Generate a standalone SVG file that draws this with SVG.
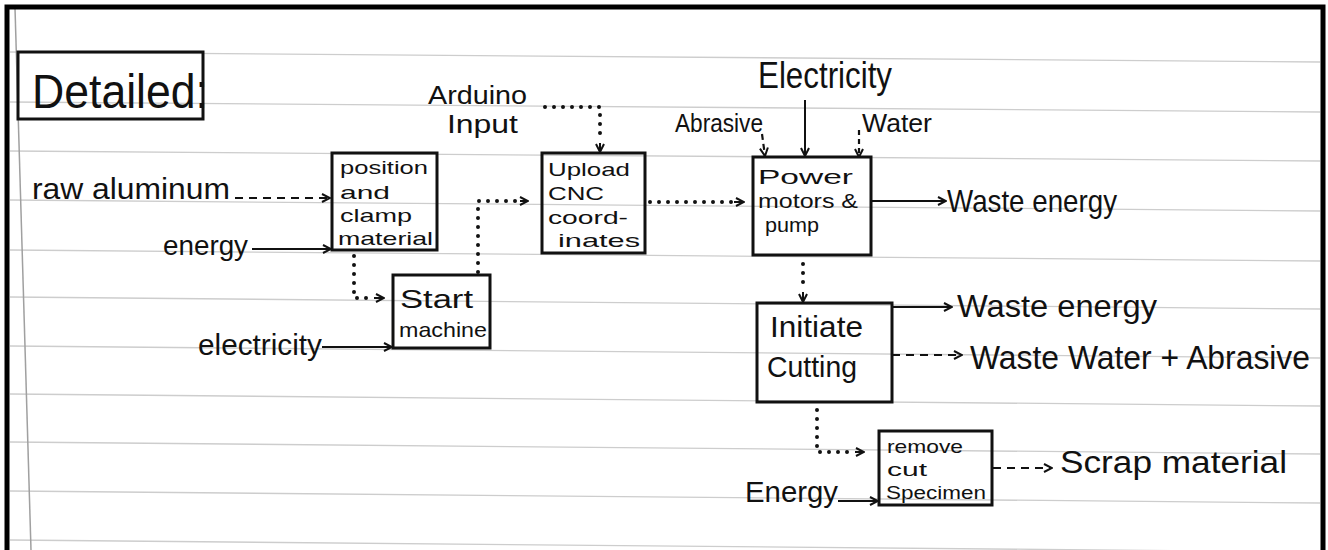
<svg xmlns="http://www.w3.org/2000/svg" width="1328" height="550" viewBox="0 0 1328 550">
<defs>
<style>
.rule{stroke:#cdcdcd;stroke-width:1.3;fill:none}
.box{fill:none;stroke:#111;stroke-width:3}
.t{font-family:"Liberation Sans",Arial,sans-serif;fill:#111}
.solid{stroke:#111;stroke-width:2;fill:none}
.dash{stroke:#111;stroke-width:2.2;fill:none;stroke-dasharray:8 6}
.dot{stroke:#111;stroke-width:4;fill:none;stroke-dasharray:0 9;stroke-linecap:round}
</style>
<marker id="ah" viewBox="0 0 10 10" refX="9" refY="5" markerWidth="10" markerHeight="10" markerUnits="userSpaceOnUse" orient="auto">
<path d="M1,1 L9,5 L1,9" fill="none" stroke="#111" stroke-width="2"/>
</marker>
</defs>
<rect x="0" y="0" width="1328" height="550" fill="#fff"/>
<g id="paper">
<line class="rule" x1="10" y1="52" x2="1320" y2="62"/>
<line class="rule" x1="10" y1="102" x2="1320" y2="112"/>
<line class="rule" x1="10" y1="151" x2="1320" y2="161"/>
<line class="rule" x1="10" y1="200" x2="1320" y2="211"/>
<line class="rule" x1="10" y1="250" x2="1320" y2="261"/>
<line class="rule" x1="10" y1="297" x2="1320" y2="309"/>
<line class="rule" x1="10" y1="346" x2="1320" y2="358"/>
<line class="rule" x1="10" y1="394" x2="1320" y2="406"/>
<line class="rule" x1="10" y1="442" x2="1320" y2="454"/>
<line class="rule" x1="10" y1="491" x2="1320" y2="503"/>
<line class="rule" x1="10" y1="540" x2="1320" y2="552"/>
<line x1="15" y1="8" x2="31" y2="550" stroke="#a0a0a0" stroke-width="1.5"/>
<rect x="7" y="7" width="1316" height="570" fill="none" stroke="#000" stroke-width="5"/>
</g>

<g id="title">
<rect class="box" x="18" y="52" width="185" height="67"/>
<text class="t" x="32" y="108" font-size="48" textLength="176" lengthAdjust="spacingAndGlyphs">Detailed:</text>
</g>

<g id="inputs">
<text class="t" x="32" y="199" font-size="30" textLength="198" lengthAdjust="spacingAndGlyphs">raw aluminum</text>
<text class="t" x="163" y="255" font-size="27" textLength="85" lengthAdjust="spacingAndGlyphs">energy</text>
<text class="t" x="198" y="355" font-size="30" textLength="124" lengthAdjust="spacingAndGlyphs">electricity</text>
<text class="t" x="428" y="104" font-size="26" textLength="99" lengthAdjust="spacingAndGlyphs">Arduino</text>
<text class="t" x="447" y="133" font-size="25" textLength="71" lengthAdjust="spacingAndGlyphs">Input</text>
<text class="t" x="758" y="88" font-size="36" textLength="134" lengthAdjust="spacingAndGlyphs">Electricity</text>
<text class="t" x="675" y="132" font-size="26" textLength="88" lengthAdjust="spacingAndGlyphs">Abrasive</text>
<text class="t" x="862" y="132" font-size="26" textLength="70" lengthAdjust="spacingAndGlyphs">Water</text>
<text class="t" x="745" y="502" font-size="30" textLength="93" lengthAdjust="spacingAndGlyphs">Energy</text>
</g>

<g id="outputs">
<text class="t" x="947" y="212" font-size="32" textLength="170" lengthAdjust="spacingAndGlyphs">Waste energy</text>
<text class="t" x="957" y="317" font-size="32" textLength="200" lengthAdjust="spacingAndGlyphs">Waste energy</text>
<text class="t" x="970" y="369" font-size="33" textLength="340" lengthAdjust="spacingAndGlyphs">Waste Water + Abrasive</text>
<text class="t" x="1060" y="473" font-size="31" textLength="227" lengthAdjust="spacingAndGlyphs">Scrap material</text>
</g>

<g id="node-position">
<rect class="box" x="332" y="153" width="105" height="97"/>
<text class="t" x="340" y="174" font-size="19" textLength="88" lengthAdjust="spacingAndGlyphs">position</text>
<text class="t" x="340" y="199" font-size="19" textLength="50" lengthAdjust="spacingAndGlyphs">and</text>
<text class="t" x="340" y="222" font-size="19" textLength="72" lengthAdjust="spacingAndGlyphs">clamp</text>
<text class="t" x="338" y="245" font-size="19" textLength="95" lengthAdjust="spacingAndGlyphs">material</text>
</g>

<g id="node-start">
<rect class="box" x="393" y="275" width="97" height="73"/>
<text class="t" x="400" y="308" font-size="26" textLength="73" lengthAdjust="spacingAndGlyphs">Start</text>
<text class="t" x="399" y="337" font-size="21" textLength="88" lengthAdjust="spacingAndGlyphs">machine</text>
</g>

<g id="node-upload">
<rect class="box" x="542" y="153" width="103" height="100"/>
<text class="t" x="548" y="176" font-size="19" textLength="82" lengthAdjust="spacingAndGlyphs">Upload</text>
<text class="t" x="548" y="200" font-size="19" textLength="56" lengthAdjust="spacingAndGlyphs">CNC</text>
<text class="t" x="548" y="224" font-size="19" textLength="80" lengthAdjust="spacingAndGlyphs">coord-</text>
<text class="t" x="558" y="247" font-size="19" textLength="82" lengthAdjust="spacingAndGlyphs">inates</text>
</g>

<g id="node-power">
<rect class="box" x="753" y="157" width="118" height="98"/>
<text class="t" x="758" y="184" font-size="21" textLength="95" lengthAdjust="spacingAndGlyphs">Power</text>
<text class="t" x="758" y="208" font-size="20" textLength="100" lengthAdjust="spacingAndGlyphs">motors &amp;</text>
<text class="t" x="765" y="232" font-size="21" textLength="54" lengthAdjust="spacingAndGlyphs">pump</text>
</g>

<g id="node-initiate">
<rect class="box" x="757" y="303" width="135" height="99"/>
<text class="t" x="770" y="337" font-size="30" textLength="93" lengthAdjust="spacingAndGlyphs">Initiate</text>
<text class="t" x="767" y="377" font-size="30" textLength="90" lengthAdjust="spacingAndGlyphs">Cutting</text>
</g>

<g id="node-remove">
<rect class="box" x="879" y="431" width="113" height="74"/>
<text class="t" x="887" y="453" font-size="19" textLength="76" lengthAdjust="spacingAndGlyphs">remove</text>
<text class="t" x="887" y="476" font-size="19" textLength="40" lengthAdjust="spacingAndGlyphs">cut</text>
<text class="t" x="886" y="499" font-size="18" textLength="100" lengthAdjust="spacingAndGlyphs">Specimen</text>
</g>

<g id="connectors">
<line class="dash" x1="235" y1="198" x2="330" y2="198" marker-end="url(#ah)"/>
<line class="solid" x1="252" y1="249" x2="331" y2="249" marker-end="url(#ah)"/>
<polyline class="dot" points="354,256 354,298 372,298"/>
<line class="solid" x1="374" y1="298" x2="384" y2="298" marker-end="url(#ah)"/>
<line class="solid" x1="322" y1="347" x2="392" y2="347" marker-end="url(#ah)"/>
<polyline class="dot" points="478,272 478,201 518,201"/>
<line class="solid" x1="520" y1="201" x2="528" y2="201" marker-end="url(#ah)"/>
<polyline class="dot" points="545,107 600,107 600,142"/>
<line class="solid" x1="600" y1="143" x2="600" y2="152" marker-end="url(#ah)"/>
<line class="dot" x1="650" y1="202" x2="732" y2="202"/>
<line class="solid" x1="734" y1="202" x2="744" y2="202" marker-end="url(#ah)"/>
<line class="dash" x1="762" y1="134" x2="765" y2="156" style="stroke-dasharray:6 4" marker-end="url(#ah)"/>
<line class="solid" x1="805" y1="100" x2="805" y2="156" marker-end="url(#ah)"/>
<line class="dash" x1="859" y1="130" x2="859" y2="157" style="stroke-dasharray:5 4" marker-end="url(#ah)"/>
<line class="solid" x1="871" y1="201" x2="946" y2="201" marker-end="url(#ah)"/>
<line class="dot" x1="803" y1="264" x2="803" y2="290"/>
<line class="solid" x1="803" y1="292" x2="803" y2="302" marker-end="url(#ah)"/>
<line class="solid" x1="892" y1="307" x2="952" y2="307" marker-end="url(#ah)"/>
<line class="dash" x1="892" y1="355" x2="962" y2="355" marker-end="url(#ah)"/>
<polyline class="dot" points="817,410 817,452 853,452"/>
<line class="solid" x1="855" y1="452" x2="864" y2="452" marker-end="url(#ah)"/>
<line class="solid" x1="838" y1="501" x2="878" y2="501" marker-end="url(#ah)"/>
<line class="dash" x1="993" y1="468" x2="1052" y2="468" marker-end="url(#ah)"/>
</g>
</svg>
